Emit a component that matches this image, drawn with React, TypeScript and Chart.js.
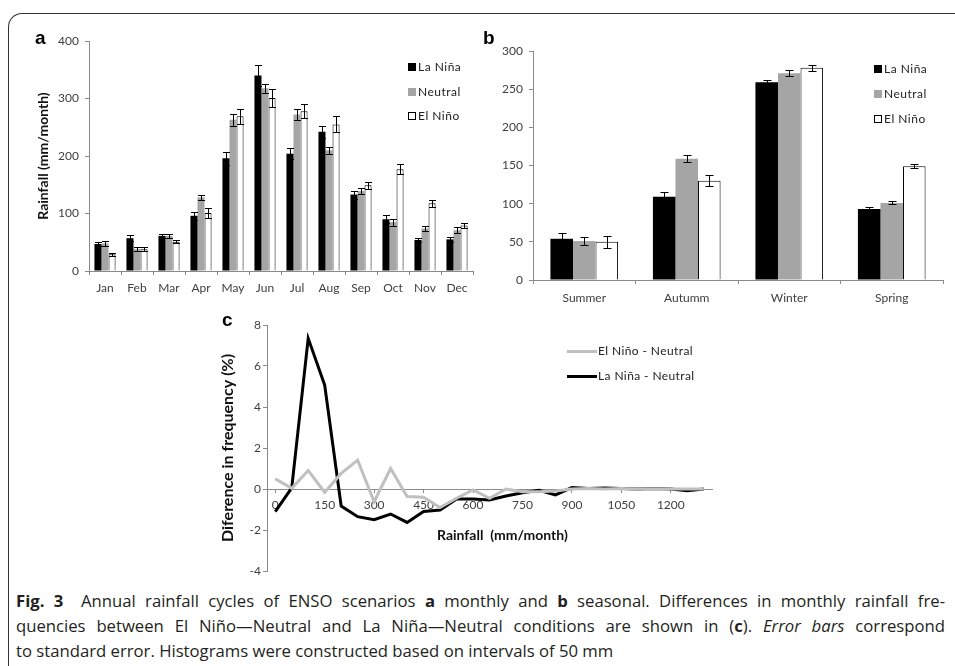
import React, { useEffect, useLayoutEffect, useRef } from "react";
import { Chart, registerables } from "chart.js";

Chart.register(...registerables);

// ---------- DATA ----------
const months = ["Jan", "Feb", "Mar", "Apr", "May", "Jun", "Jul", "Aug", "Sep", "Oct", "Nov", "Dec"];
const laNinaMonthly = [47, 57, 61, 96, 196, 340, 204, 242, 133, 90, 54, 55];
const neutralMonthly = [48, 38, 61, 128, 263, 318, 272, 210, 139, 85, 74, 71];
const elNinoMonthly = [29, 38, 51, 101, 269, 301, 278, 255, 149, 177, 118, 79];
const laNinaMonthlyErr = [3, 5, 3, 7, 11, 18, 10, 10, 7, 7, 4, 5];
const neutralMonthlyErr = [5, 3, 4, 5, 10, 8, 10, 6, 5, 6, 4, 5];
const elNinoMonthlyErr = [3, 4, 3, 9, 13, 15, 12, 14, 6, 9, 6, 5];

const seasons = ["Summer", "Autumm", "Winter", "Spring"];
const laNinaSeasonal = [54, 109, 259, 93];
const neutralSeasonal = [51, 159, 271, 101];
const elNinoSeasonal = [50, 130, 278, 149];
const laNinaSeasonalErr = [8, 6, 3.5, 2];
const neutralSeasonalErr = [5, 5, 3.5, 2];
const elNinoSeasonalErr = [8, 7, 4, 2.5];

const rainfallBins = [0, 50, 100, 150, 200, 250, 300, 350, 400, 450, 500, 550, 600, 650, 700, 750, 800, 850, 900, 950, 1000, 1050, 1100, 1150, 1200, 1250, 1300];
const elNinoMinusNeutral = [0.5, 0.03, 0.9, -0.16, 0.76, 1.41, -0.62, 1.0, -0.37, -0.4, -0.9, -0.45, -0.05, -0.45, 0, -0.13, -0.13, -0.1, 0, 0.02, 0, 0.02, 0, 0.01, 0, 0, 0];
const laNinaMinusNeutral = [-1.1, 0.05, 7.35, 5.07, -0.83, -1.35, -1.5, -1.22, -1.63, -1.1, -1.03, -0.49, -0.49, -0.54, -0.34, -0.18, -0.06, -0.29, 0.07, 0.02, 0.05, 0.02, 0, 0.02, 0, -0.08, 0];

const monthlyTicks = [0, 100, 200, 300, 400];
const seasonalTicks = [0, 50, 100, 150, 200, 250, 300];
const diffTicks = [-4, -2, 0, 2, 4, 6, 8];
const rainfallTicks = [0, 150, 300, 450, 600, 750, 900, 1050, 1200];

// ---------- STYLE ----------
const AXIS = "#8a8a8a";
const TICK_TXT = "#404040";
const FONT = "Lato";
const C_LANINA = "#000000";
const C_NEUTRAL = "#a5a5a5";
const C_ELNINO = "#ffffff";

const errorBarPlugin = {
  id: "errorBars",
  afterDatasetsDraw(chart: any) {
    const ctx = chart.ctx;
    const cap = chart.options.plugins.errorBars?.cap ?? 3.5;
    chart.data.datasets.forEach((ds: any, di: number) => {
      const errs = ds.errors;
      if (!errs) return;
      const meta = chart.getDatasetMeta(di);
      const yScale = chart.scales[meta.yAxisID];
      meta.data.forEach((bar: any, i: number) => {
        const v = ds.data[i];
        const e = errs[i];
        const x = Math.round(bar.x) + 0.5;
        const yT = Math.round(yScale.getPixelForValue(v + e)) + 0.5;
        const yB = Math.round(yScale.getPixelForValue(v - e)) + 0.5;
        ctx.save();
        ctx.strokeStyle = "#000";
        ctx.lineWidth = 1;
        ctx.beginPath();
        ctx.moveTo(x, yT);
        ctx.lineTo(x, yB);
        ctx.moveTo(x - cap, yT);
        ctx.lineTo(x + cap, yT);
        ctx.moveTo(x - cap, yB);
        ctx.lineTo(x + cap, yB);
        ctx.stroke();
        ctx.restore();
      });
    });
  },
};

function barDatasets(ln: number[], nu: number[], en: number[], lnE: number[], nuE: number[], enE: number[]) {
  return [
    { label: "La Niña", data: ln, errors: lnE, backgroundColor: C_LANINA, borderWidth: 0 },
    { label: "Neutral", data: nu, errors: nuE, backgroundColor: C_NEUTRAL, borderWidth: 0 },
    { label: "El Niño", data: en, errors: enE, backgroundColor: C_ELNINO, borderColor: "#000", borderWidth: 1 },
  ];
}

function useChart(ref: React.RefObject<HTMLCanvasElement>, make: () => any) {
  useEffect(() => {
    if (!ref.current) return;
    const chart = new Chart(ref.current, make());
    return () => chart.destroy();
  }, []);
}

function MonthlyChart() {
  const ref = useRef<HTMLCanvasElement>(null);
  useChart(ref, () => ({
    type: "bar",
    data: {
      labels: months,
      datasets: barDatasets(laNinaMonthly, neutralMonthly, elNinoMonthly, laNinaMonthlyErr, neutralMonthlyErr, elNinoMonthlyErr).map((d) => ({
        ...d,
        categoryPercentage: 0.66,
        barPercentage: 1,
      })),
    },
    options: {
      responsive: false,
      animation: false,
      layout: { padding: { top: 41, right: 7, left: 0, bottom: 0 } },
      plugins: { legend: { display: false }, tooltip: { enabled: false }, errorBars: { cap: 3.5 } },
      scales: {
        x: {
          grid: { display: true, drawOnChartArea: false, drawTicks: true, tickLength: 4, color: AXIS, offset: true },
          border: { display: true, color: AXIS },
          ticks: { font: { family: FONT, size: 12 }, color: TICK_TXT, padding: 6, maxRotation: 0 },
          afterFit: (s: any) => { s.height = 39; },
        },
        y: {
          min: 0,
          max: 400,
          afterBuildTicks: (s: any) => { s.ticks = monthlyTicks.map((v) => ({ value: v })); },
          grid: { display: true, drawOnChartArea: false, drawTicks: true, tickLength: 4, color: AXIS },
          border: { display: true, color: AXIS },
          ticks: { font: { family: FONT, size: 12 }, color: TICK_TXT, padding: 6 },
          title: {
            display: true,
            text: "Rainfall (mm/month)",
            font: { family: FONT, size: 14, weight: "bold" },
            color: "#111",
            padding: { top: 35, bottom: 0 },
          },
          afterFit: (s: any) => { s.width = 89; },
        },
      },
    },
    plugins: [errorBarPlugin],
  }));
  return <canvas ref={ref} width={480} height={310} style={{ position: "absolute", left: 0, top: 0 }} />;
}

function SeasonalChart() {
  const ref = useRef<HTMLCanvasElement>(null);
  useChart(ref, () => ({
    type: "bar",
    data: {
      labels: seasons,
      datasets: barDatasets(laNinaSeasonal, neutralSeasonal, elNinoSeasonal, laNinaSeasonalErr, neutralSeasonalErr, elNinoSeasonalErr).map((d) => ({
        ...d,
        categoryPercentage: 0.66,
        barPercentage: 1,
      })),
    },
    options: {
      responsive: false,
      animation: false,
      layout: { padding: { top: 51, right: 12, left: 0, bottom: 0 } },
      plugins: { legend: { display: false }, tooltip: { enabled: false }, errorBars: { cap: 4 } },
      scales: {
        x: {
          grid: { display: true, drawOnChartArea: false, drawTicks: true, tickLength: 4, color: AXIS, offset: true },
          border: { display: true, color: AXIS },
          ticks: { font: { family: FONT, size: 12 }, color: TICK_TXT, padding: 7, maxRotation: 0 },
          afterFit: (s: any) => { s.height = 30; },
        },
        y: {
          min: 0,
          max: 300,
          afterBuildTicks: (s: any) => { s.ticks = seasonalTicks.map((v) => ({ value: v })); },
          grid: { display: true, drawOnChartArea: false, drawTicks: true, tickLength: 4, color: AXIS },
          border: { display: true, color: AXIS },
          ticks: { font: { family: FONT, size: 12 }, color: TICK_TXT, padding: 6 },
          afterFit: (s: any) => { s.width = 63; },
        },
      },
    },
    plugins: [errorBarPlugin],
  }));
  return <canvas ref={ref} width={485} height={310} style={{ position: "absolute", left: 470, top: 0 }} />;
}

function DiffChart() {
  const ref = useRef<HTMLCanvasElement>(null);
  useChart(ref, () => ({
    type: "line",
    data: {
      datasets: [
        {
          label: "El Niño - Neutral",
          data: rainfallBins.map((x, i) => ({ x, y: elNinoMinusNeutral[i] })),
          borderColor: "#c0c0c0",
          borderWidth: 3,
          pointRadius: 0,
          tension: 0,
        },
        {
          label: "La Niña - Neutral",
          data: rainfallBins.map((x, i) => ({ x, y: laNinaMinusNeutral[i] })),
          borderColor: "#000",
          borderWidth: 3,
          pointRadius: 0,
          tension: 0,
        },
      ],
    },
    options: {
      responsive: false,
      animation: false,
      layout: { padding: { top: 20, right: 48, left: 0, bottom: 19 } },
      plugins: { legend: { display: false }, tooltip: { enabled: false } },
      scales: {
        x: {
          type: "linear",
          position: { y: 0 },
          min: -25,
          max: 1325,
          afterBuildTicks: (s: any) => { s.ticks = rainfallTicks.map((v) => ({ value: v })); },
          grid: { display: true, drawOnChartArea: false, drawTicks: true, tickLength: 3, color: AXIS },
          border: { display: true, color: AXIS },
          ticks: {
            font: { family: FONT, size: 12 },
            color: TICK_TXT,
            padding: 6,
            maxRotation: 0,
            callback: (v: any) => String(v),
          },
          afterFit: (s: any) => { s.height = 40; },
        },
        y: {
          min: -4,
          max: 8,
          afterBuildTicks: (s: any) => { s.ticks = diffTicks.map((v) => ({ value: v })); },
          grid: { display: true, drawOnChartArea: false, drawTicks: true, tickLength: 4, color: AXIS },
          border: { display: true, color: AXIS },
          ticks: { font: { family: FONT, size: 12 }, color: TICK_TXT, padding: 2 },
          title: {
            display: true,
            text: "Diference in frequency (%)",
            font: { family: FONT, size: 16, weight: "bold" },
            color: "#111",
            padding: { top: 18, bottom: 0 },
          },
          afterFit: (s: any) => { s.width = 67; },
        },
      },
    },
  }));
  return <canvas ref={ref} width={560} height={285} style={{ position: "absolute", left: 200, top: 305 }} />;
}

function Swatch({ left, top, color, border }: { left: number; top: number; color: string; border?: boolean }) {
  return (
    <div
      style={{
        position: "absolute",
        left,
        top,
        width: 8,
        height: 8,
        boxSizing: "border-box",
        background: color,
        border: border ? "1px solid #000" : "none",
      }}
    />
  );
}

function Label({ left, top, text, size = 12, spacing = 0.5 }: { left: number; top: number; text: string; size?: number; spacing?: number }) {
  return (
    <div
      style={{
        position: "absolute",
        left,
        top,
        fontFamily: FONT,
        fontSize: size,
        lineHeight: "14px",
        letterSpacing: spacing,
        color: "#222",
        whiteSpace: "nowrap",
      }}
    >
      {text}
    </div>
  );
}

function BarLegend({ x, ys }: { x: number; ys: number[] }) {
  const items = [
    { t: "La Niña", c: C_LANINA, b: false },
    { t: "Neutral", c: C_NEUTRAL, b: false },
    { t: "El Niño", c: C_ELNINO, b: true },
  ];
  return (
    <>
      {items.map((it, i) => (
        <React.Fragment key={it.t}>
          <Swatch left={x} top={ys[i] - 4} color={it.c} border={it.b} />
          <Label left={x + 10} top={ys[i] - 7} text={it.t} />
        </React.Fragment>
      ))}
    </>
  );
}

function LineLegend() {
  const items = [
    { t: "El Niño - Neutral", c: "#c0c0c0", y: 351 },
    { t: "La Niña - Neutral", c: "#000", y: 376 },
  ];
  return (
    <>
      {items.map((it) => (
        <React.Fragment key={it.t}>
          <div style={{ position: "absolute", left: 567, top: it.y - 1, width: 30, height: 3, background: it.c }} />
          <Label left={598} top={it.y - 7} text={it.t} spacing={0.4} />
        </React.Fragment>
      ))}
    </>
  );
}

function PanelLetter({ left, top, ch }: { left: number; top: number; ch: string }) {
  return (
    <div
      style={{
        position: "absolute",
        left,
        top,
        fontFamily: "Liberation Sans, Arial, sans-serif",
        fontWeight: "bold",
        fontSize: 19,
        lineHeight: "18px",
        color: "#000",
      }}
    >
      {ch}
    </div>
  );
}

const captionStyle: React.CSSProperties = {
  position: "absolute",
  left: 16,
  whiteSpace: "nowrap",
  transformOrigin: "0 0",
  fontFamily: "Open Sans, Noto Sans, sans-serif",
  fontSize: 16,
  lineHeight: "20px",
  color: "#231f20",
};

function Caption() {
  const r1 = useRef<HTMLDivElement>(null);
  const r2 = useRef<HTMLDivElement>(null);
  const r3 = useRef<HTMLDivElement>(null);
  useLayoutEffect(() => {
    const e1 = r1.current;
    const e2 = r2.current;
    const e3 = r3.current;
    if (!e1 || !e2 || !e3) return;
    const w1 = e1.getBoundingClientRect().width;
    const w3 = e3.getBoundingClientRect().width;
    const s = 0.5 * (537 / w3 + 929 / w1);
    e3.style.transform = `scaleX(${s})`;
    [e1, e2].forEach((el) => {
      const w = el.getBoundingClientRect().width;
      const n = (el.textContent || "").split(" ").length - 1;
      const extra = (929 / s - w) / Math.max(n, 1);
      el.style.wordSpacing = `${extra}px`;
      el.style.transform = `scaleX(${s})`;
    });
  }, []);
  return (
    <>
      <div ref={r1} style={{ ...captionStyle, top: 591 }}>
        <b>Fig. 3</b>
        {"\u2002 Annual rainfall cycles of ENSO scenarios "}
        <b>a</b>
        {" monthly and "}
        <b>b</b>
        {" seasonal. Differences in monthly rainfall fre-"}
      </div>
      <div ref={r2} style={{ ...captionStyle, top: 616 }}>
        {"quencies between El Niño—Neutral and La Niña—Neutral conditions are shown in ("}
        <b>c</b>
        {"). "}
        <i>Error bars</i>
        {" correspond"}
      </div>
      <div ref={r3} style={{ ...captionStyle, top: 641 }}>
        {"to standard error. Histograms were constructed based on intervals of 50 mm"}
      </div>
    </>
  );
}

export default function App() {
  return (
    <div
      style={{
        position: "absolute",
        left: 0,
        top: 0,
        width: 955,
        height: 666,
        overflow: "hidden",
        background: "#fff",
      }}
    >
      <div
        style={{
          position: "absolute",
          left: 8,
          top: 13,
          width: 1000,
          height: 700,
          borderTop: "1px solid #333",
          borderLeft: "1px solid #333",
          borderTopLeftRadius: 14,
        }}
      />
      <MonthlyChart />
      <SeasonalChart />
      <DiffChart />
      <div
        style={{
          position: "absolute",
          left: 437,
          top: 526,
          fontFamily: FONT,
          fontWeight: "bold",
          fontSize: 14,
          lineHeight: "18px",
          color: "#111",
          whiteSpace: "pre",
        }}
      >
        {"Rainfall  (mm/month)"}
      </div>
      <PanelLetter left={35} top={29} ch="a" />
      <PanelLetter left={483} top={29} ch="b" />
      <PanelLetter left={222} top={311} ch="c" />
      <BarLegend x={408} ys={[67, 92, 116]} />
      <BarLegend x={874} ys={[69, 94, 119]} />
      <LineLegend />
      <Caption />
    </div>
  );
}
